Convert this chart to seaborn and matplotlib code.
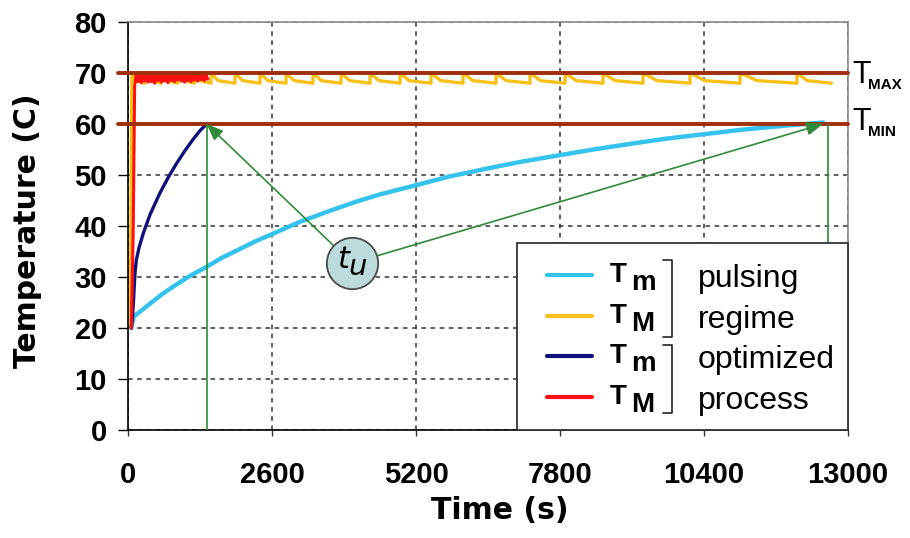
import matplotlib
matplotlib.use("Agg")
import matplotlib.pyplot as plt
import seaborn as sns
from matplotlib.patches import Rectangle

# ---------------- data ----------------
x_ticks = [0, 2600, 5200, 7800, 10400, 13000]
y_ticks = [0, 10, 20, 30, 40, 50, 60, 70, 80]
T_MAX = 70
T_MIN = 60

cyan_t = [60, 100, 250, 400, 600, 800, 1100, 1420, 1700, 2022, 2300, 2600, 3100, 3650, 4100,
          4550, 5200, 5800, 6500, 7100, 7800, 8400, 9065, 9700, 10400, 11100, 11900, 12550]
cyan_T = [20, 22.2, 23.5, 24.8, 26.5, 28, 30.1, 32, 33.8, 35.5, 37.0, 38.4, 40.8, 43, 44.7,
          46.2, 48.0, 49.7, 51.3, 52.6, 53.9, 55.0, 56.1, 57.1, 58.0, 58.9, 59.7, 60.3]

blue_t = [60, 80, 100, 126, 150, 200, 277, 400, 578, 730, 879, 1030, 1176, 1300, 1420]
blue_T = [20, 22, 25.5, 30.8, 33.3, 35.8, 38.6, 42.3, 46.5, 49.6, 52.3, 54.8, 57.0, 58.7, 60]

red_t = [60, 95, 120, 150, 180, 210, 240, 270, 300, 330,
         360, 390, 420, 450, 480, 510, 540, 570, 600, 630,
         660, 690, 720, 750, 780, 810, 840, 870, 900, 930,
         960, 990, 1020, 1050, 1080, 1110, 1140, 1170, 1200, 1230,
         1260, 1290, 1320, 1350, 1380, 1410, 1440]
red_T = [20, 40, 67.5, 69.9, 68.3, 69.8, 68.1, 69.9, 68.4, 69.7,
         68.2, 70.0, 68.3, 69.8, 68.0, 69.9, 68.5, 69.6, 68.2, 69.9,
         68.4, 69.8, 68.1, 69.7, 68.5, 69.9, 68.3, 69.6, 68.6, 69.8,
         68.4, 69.7, 68.2, 69.9, 68.5, 69.6, 68.3, 69.8, 68.6, 69.5,
         68.4, 69.7, 68.7, 69.4, 68.5, 69.6, 68.8]

# yellow: start rise, then sawtooth pulses (rise times of each heating pulse)
yellow_start_t = [40, 70]
yellow_start_T = [20, 70]
yellow_rise_t = [300, 600, 900, 1200, 1499, 1932, 2383, 2853, 3340, 3846, 4370,
                 4911, 5471, 6049, 6645, 7258, 7891, 8577, 9299, 10147, 11050, 12079]
yellow_end_t = 12700
yellow_high = 70.0
yellow_knee = 68.5
yellow_low = 68.0

tu_t_left = 1420
tu_t_right = 12640

# ---------------- build yellow polyline from the pulse data ----------------
yt = list(yellow_start_t)
yv = list(yellow_start_T)
prev = yellow_start_t[-1]
for r in yellow_rise_t + [yellow_end_t]:
    yt += [prev + 0.3 * (r - prev), r]
    yv += [yellow_knee, yellow_low]
    if r != yellow_end_t:
        yt.append(r)
        yv.append(yellow_high)
    prev = r

# ---------------- style ----------------
sns.set_style("white")
plt.rcParams['font.family'] = ['Liberation Sans', 'DejaVu Sans']
plt.rcParams['text.color'] = 'black'
plt.rcParams['axes.labelcolor'] = 'black'
plt.rcParams['xtick.color'] = 'black'
plt.rcParams['ytick.color'] = 'black'

W, H = 910, 538
fig = plt.figure(figsize=(W / 100, H / 100), dpi=100)
L, R, B, Tp = 128, 848, 430, 22
ax = fig.add_axes([L / W, 1 - B / H, (R - L) / W, (B - Tp) / H])

def axc(px, py):
    return ((px - L) / (R - L), (B - py) / (B - Tp))

def figc(px, py):
    return (px / W, 1 - py / H)

CYAN = "#35c3ee"
YELLOW = "#f7c11a"
BLUE = "#10107a"
RED = "#ff1010"
BROWN = "#9e2e0c"
GREEN = "#2f8a3a"

sns.lineplot(x=yt, y=yv, sort=False, estimator=None, color=YELLOW, lw=2.4, ax=ax, zorder=2)
sns.lineplot(x=cyan_t, y=cyan_T, sort=False, estimator=None, color=CYAN, lw=3.2, ax=ax, zorder=2)
sns.lineplot(x=blue_t, y=blue_T, sort=False, estimator=None, color=BLUE, lw=2.4, ax=ax, zorder=2.2)
sns.lineplot(x=red_t, y=red_T, sort=False, estimator=None, color=RED, lw=2.2, ax=ax, zorder=2.3)

for lvl in (T_MAX, T_MIN):
    ax.axhline(lvl, xmin=-10 / (R - L), xmax=1, color=BROWN, lw=2.8, zorder=3, clip_on=False)

ax.set_xlim(0, 13000)
ax.set_ylim(0, 80)
ax.set_xticks(x_ticks)
ax.set_yticks(y_ticks)
ax.set_xticklabels([str(v) for v in x_ticks], fontweight='bold')
ax.set_yticklabels([str(v) for v in y_ticks], fontweight='bold')
ax.tick_params(axis='y', direction='out', length=7.2, width=1, pad=8, labelsize=21,
               color='black', labelcolor='black', left=True)
ax.tick_params(axis='x', direction='out', length=4.3, width=1, pad=18, labelsize=21,
               color='#333333', labelcolor='black', bottom=True)

ax.grid(True, color='#333333', linestyle=(0, (3, 3)), lw=1.1, zorder=0.5)
ax.set_axisbelow(True)
for s in ('left', 'bottom'):
    ax.spines[s].set_color('black')
    ax.spines[s].set_linewidth(1.2)
for s in ('top', 'right'):
    ax.spines[s].set_color('#8a8a8a')
    ax.spines[s].set_linewidth(1.2)

ax.set_xlabel("Time (s)", fontsize=21.5, fontweight='bold', family=['DejaVu Sans'], color='black')
ax.set_ylabel("Temperature (C)", fontsize=21.5, fontweight='bold', family=['DejaVu Sans'], color='black')
ax.xaxis.set_label_coords(*axc(500, 496))
ax.yaxis.set_label_coords(*axc(42, 231))

# vertical green markers of t_u
ax.vlines([tu_t_left, tu_t_right], 0, T_MIN, color=GREEN, lw=1.2, zorder=3.5)

# t_u circle and arrows
cx, cy = 4044, 32.7
ax.plot([cx], [cy], marker='o', ms=37, mfc='#bcdcdc', mec='#4a4a4a', mew=1.3, zorder=6, clip_on=False)
ax.text(3882, 33.5, "t", fontsize=22, style='italic', ha='center', va='center', zorder=7, family=['DejaVu Sans'])
ax.text(4144, 31.9, "u", fontsize=21, style='italic', ha='center', va='center', zorder=7, family=['DejaVu Sans'])
for tx in (tu_t_left, 12550):
    ax.annotate("", xy=(tx, T_MIN), xytext=(cx, cy),
                arrowprops=dict(arrowstyle='-|>,head_length=1.0,head_width=0.4', color=GREEN, lw=1.2,
                                shrinkA=19, shrinkB=0), zorder=5)

# ---------------- legend (manual, in axes coordinates) ----------------
x0, y1 = axc(517, 243)
ax.add_patch(Rectangle((x0, 0), 1 - x0, y1, transform=ax.transAxes, facecolor='white',
                       edgecolor='#333333', lw=1.3, zorder=8, clip_on=False))
rows_py = [275, 316, 356, 397]
colors = [CYAN, YELLOW, BLUE, RED]
subs = ["m", "M", "m", "M"]
words = ["pulsing", "regime", "optimized", "process"]
for py, c, sub, w in zip(rows_py, colors, subs, words):
    xa, ya = axc(547, py)
    xb, _ = axc(592, py)
    ax.plot([xa, xb], [ya, ya], color=c, lw=3, transform=ax.transAxes, zorder=9, clip_on=False)
    ax.text(*axc(610, py + 7), "T", fontsize=20, fontweight='bold', transform=ax.transAxes,
            ha='left', va='baseline', zorder=9)
    ax.text(*axc(631, py + 15), sub, fontsize=20, fontweight='bold', transform=ax.transAxes,
            ha='left', va='baseline', zorder=9)
    ax.text(*axc(698, py + 12), w, fontsize=23, transform=ax.transAxes,
            ha='left', va='baseline', zorder=9)
for ytop, ybot in ((260, 337), (345, 413)):
    xs = [axc(663, 0)[0], axc(672, 0)[0], axc(672, 0)[0], axc(663, 0)[0]]
    ys = [axc(0, ytop)[1], axc(0, ytop)[1], axc(0, ybot)[1], axc(0, ybot)[1]]
    ax.plot(xs, ys, color='#222222', lw=1.2, transform=ax.transAxes, zorder=9, clip_on=False)

# right-side level labels
for lbl, base_py in (("MAX", 83), ("MIN", 130)):
    fig.text(*figc(852, base_py), "T", fontsize=22, ha='left', va='baseline')
    fig.text(*figc(868, base_py + 6), lbl, fontsize=11, fontweight='bold', ha='left', va='baseline')

fig.savefig("out.png", dpi=100)
